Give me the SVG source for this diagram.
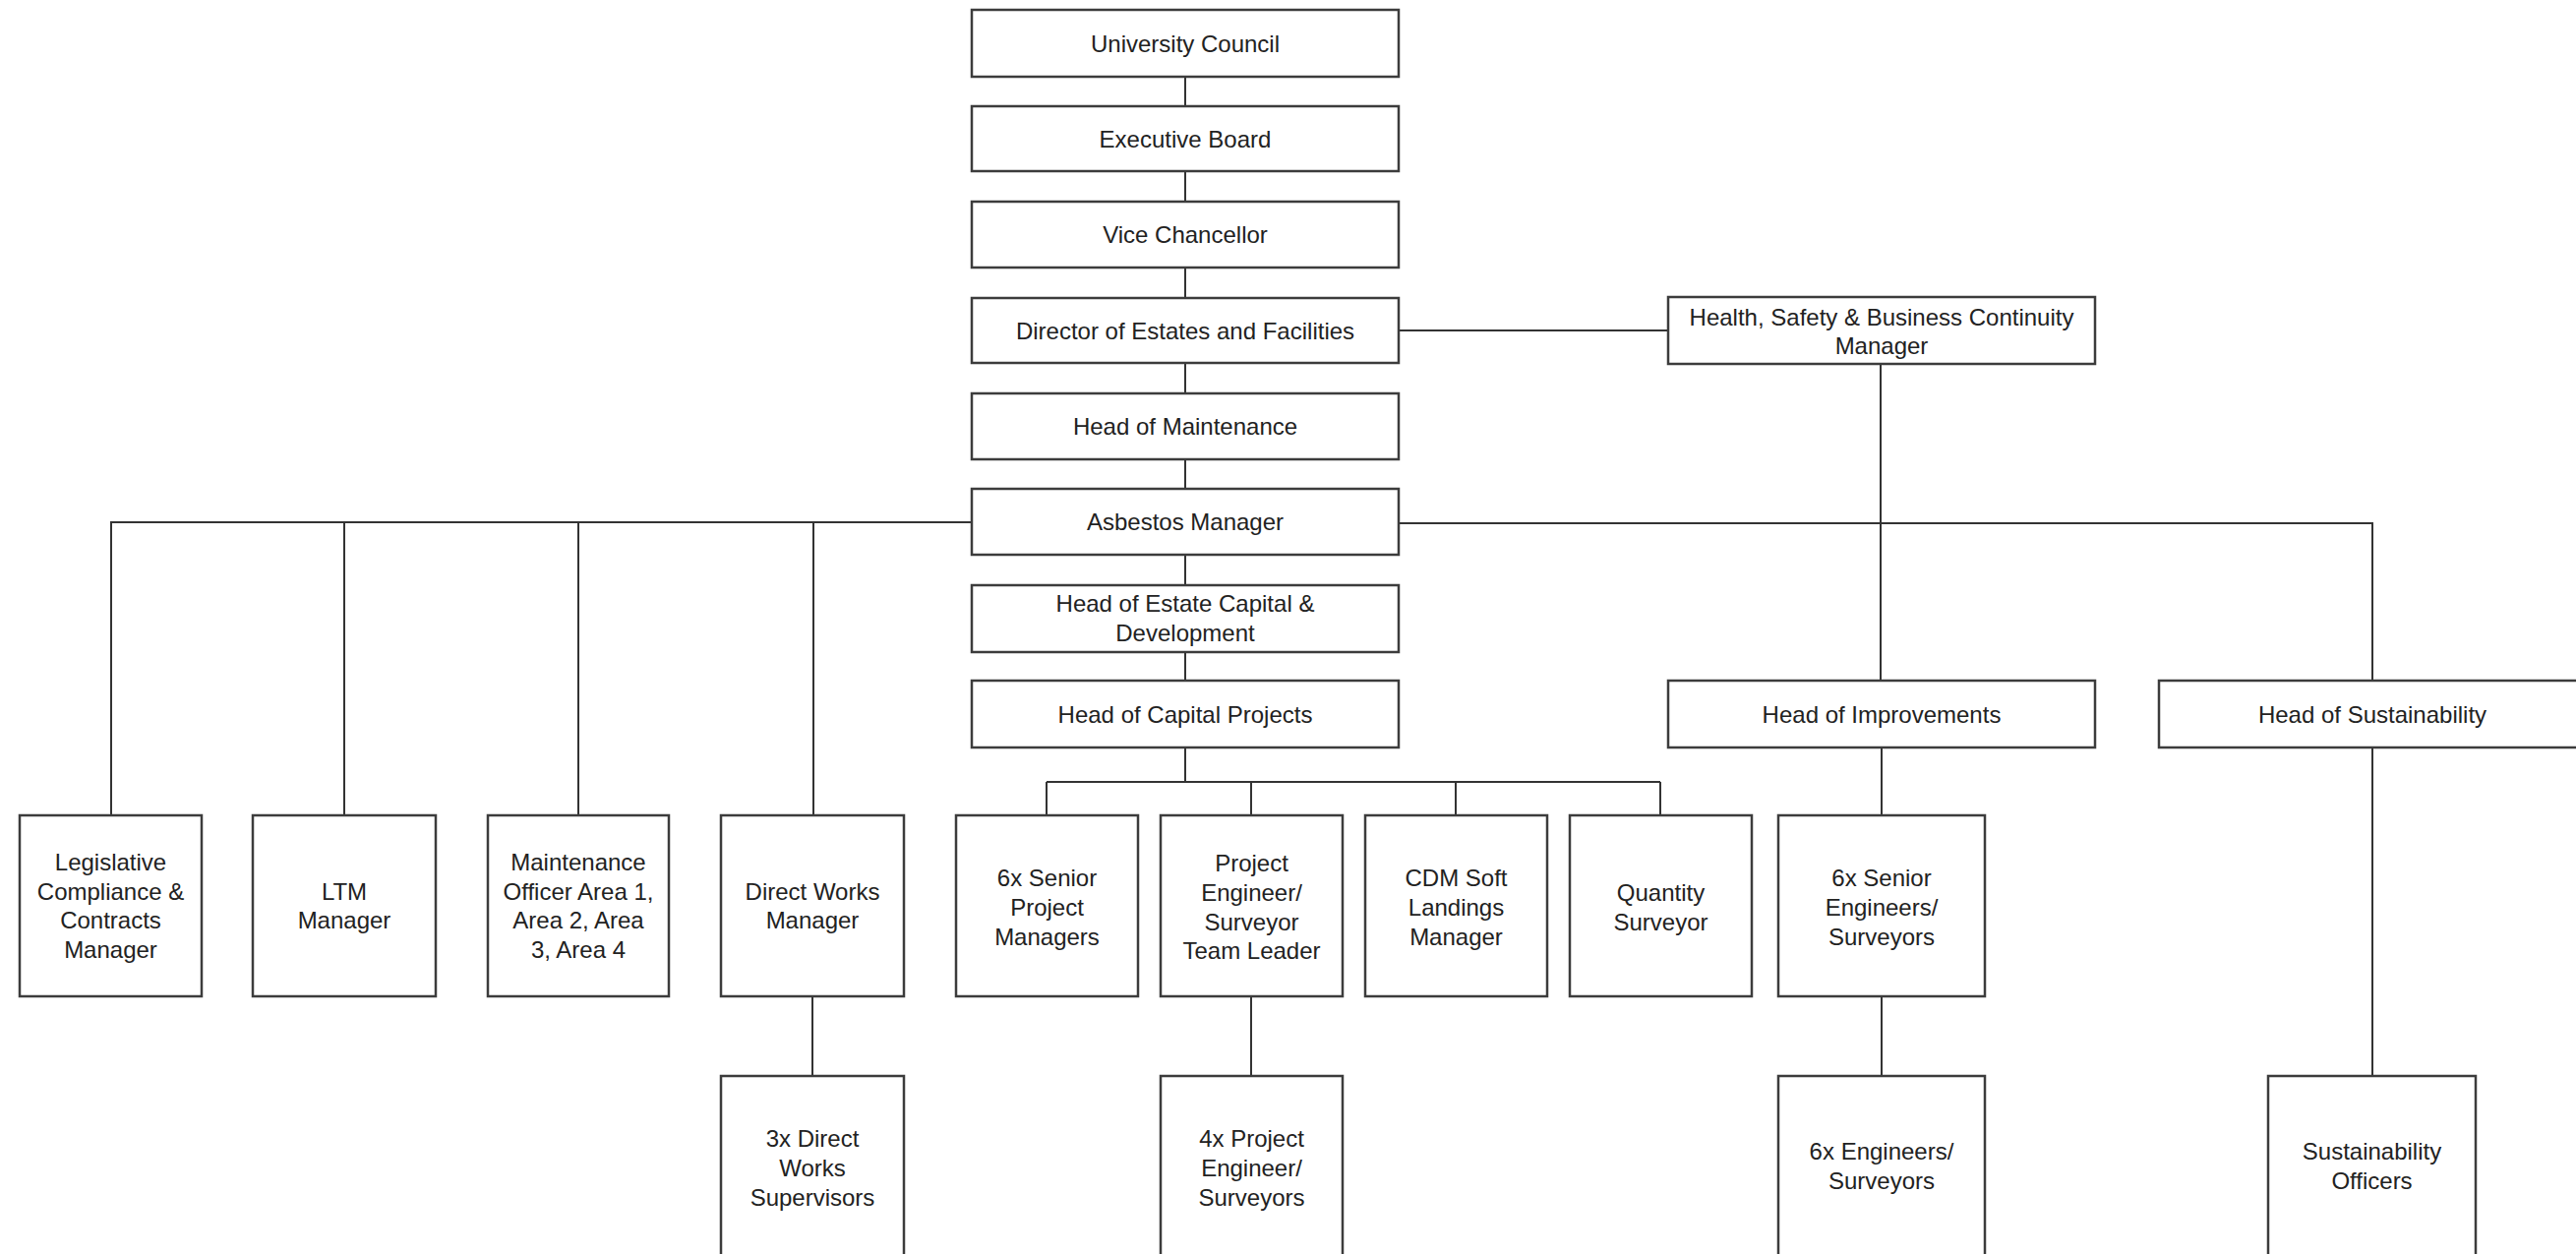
<svg xmlns="http://www.w3.org/2000/svg" width="2619" height="1275" viewBox="0 0 2619 1275">
<style>
.box{fill:#fff;stroke:#3c3c3c;stroke-width:2.5}
.t{font-family:"Liberation Sans",Arial,sans-serif;font-size:24px;fill:#222;text-anchor:middle}
.c{fill:none;stroke:#333;stroke-width:2}
</style>
<rect width="2619" height="1275" fill="#fff"/>
<g id="connectors">
<path class="c" d="M1205 78V108M1205 174V205M1205 272V303M1205 369V400M1205 467V497M1205 564V595M1205 663V692"/>
<path class="c" d="M1422 336H1696M1912 370V692"/>
<path class="c" d="M988 531H113V829M350 531V829M588 531V829M827 531V829"/>
<path class="c" d="M1422 532H2412V692"/>
<path class="c" d="M1205 760V795M1064 795H1688M1064 795V829M1272 795V829M1480 795V829M1688 795V829"/>
<path class="c" d="M826 1013V1094M1272 1013V1094"/>
<path class="c" d="M1913 760V829M1913 1013V1094M2412 760V1094"/>
</g>
<g id="n_university_council"><rect class="box" x="988" y="10" width="434" height="68"/><text class="t" x="1205" y="52.5">University Council</text></g>
<g id="n_executive_board"><rect class="box" x="988" y="108" width="434" height="66"/><text class="t" x="1205" y="149.5">Executive Board</text></g>
<g id="n_vice_chancellor"><rect class="box" x="988" y="205" width="434" height="67"/><text class="t" x="1205" y="247">Vice Chancellor</text></g>
<g id="n_director"><rect class="box" x="988" y="303" width="434" height="66"/><text class="t" x="1205" y="344.5">Director of Estates and Facilities</text></g>
<g id="n_head_maintenance"><rect class="box" x="988" y="400" width="434" height="67"/><text class="t" x="1205" y="442">Head of Maintenance</text></g>
<g id="n_asbestos"><rect class="box" x="988" y="497" width="434" height="67"/><text class="t" x="1205" y="539">Asbestos Manager</text></g>
<g id="n_head_estate_capital"><rect class="box" x="988" y="595" width="434" height="68"/><text class="t" x="1205" y="622">Head of Estate Capital &amp;</text><text class="t" x="1205" y="652">Development</text></g>
<g id="n_head_capital_projects"><rect class="box" x="988" y="692" width="434" height="68"/><text class="t" x="1205" y="734.5">Head of Capital Projects</text></g>
<g id="n_health_safety"><rect class="box" x="1696" y="302" width="434" height="68"/><text class="t" x="1913" y="331">Health, Safety &amp; Business Continuity</text><text class="t" x="1913" y="360">Manager</text></g>
<g id="n_head_improvements"><rect class="box" x="1696" y="692" width="434" height="68"/><text class="t" x="1913" y="734.5">Head of Improvements</text></g>
<g id="n_head_sustainability"><rect class="box" x="2195" y="692" width="434" height="68"/><text class="t" x="2412" y="734.5">Head of Sustainability</text></g>
<g id="n_legislative"><rect class="box" x="20" y="829" width="185" height="184"/><text class="t" x="112.5" y="885">Legislative</text><text class="t" x="112.5" y="914.5">Compliance &amp;</text><text class="t" x="112.5" y="944">Contracts</text><text class="t" x="112.5" y="973.5">Manager</text></g>
<g id="n_ltm"><rect class="box" x="257" y="829" width="186" height="184"/><text class="t" x="350" y="914.5">LTM</text><text class="t" x="350" y="944">Manager</text></g>
<g id="n_maintenance_officer"><rect class="box" x="496" y="829" width="184" height="184"/><text class="t" x="588" y="885">Maintenance</text><text class="t" x="588" y="914.5">Officer Area 1,</text><text class="t" x="588" y="944">Area 2, Area</text><text class="t" x="588" y="973.5">3, Area 4</text></g>
<g id="n_direct_works_manager"><rect class="box" x="733" y="829" width="186" height="184"/><text class="t" x="826" y="914.5">Direct Works</text><text class="t" x="826" y="944">Manager</text></g>
<g id="n_senior_pm"><rect class="box" x="972" y="829" width="185" height="184"/><text class="t" x="1064.5" y="901">6x Senior</text><text class="t" x="1064.5" y="931">Project</text><text class="t" x="1064.5" y="961">Managers</text></g>
<g id="n_project_engineer_tl"><rect class="box" x="1180" y="829" width="185" height="184"/><text class="t" x="1272.5" y="886">Project</text><text class="t" x="1272.5" y="916">Engineer/</text><text class="t" x="1272.5" y="946">Surveyor</text><text class="t" x="1272.5" y="975">Team Leader</text></g>
<g id="n_cdm"><rect class="box" x="1388" y="829" width="185" height="184"/><text class="t" x="1480.5" y="901">CDM Soft</text><text class="t" x="1480.5" y="931">Landings</text><text class="t" x="1480.5" y="961">Manager</text></g>
<g id="n_quantity_surveyor"><rect class="box" x="1596" y="829" width="185" height="184"/><text class="t" x="1688.5" y="916">Quantity</text><text class="t" x="1688.5" y="946">Surveyor</text></g>
<g id="n_senior_engineers"><rect class="box" x="1808" y="829" width="210" height="184"/><text class="t" x="1913" y="901">6x Senior</text><text class="t" x="1913" y="931">Engineers/</text><text class="t" x="1913" y="961">Surveyors</text></g>
<g id="n_direct_works_supervisors"><rect class="box" x="733" y="1094" width="186" height="184"/><text class="t" x="826" y="1166">3x Direct</text><text class="t" x="826" y="1196">Works</text><text class="t" x="826" y="1226">Supervisors</text></g>
<g id="n_project_engineers"><rect class="box" x="1180" y="1094" width="185" height="184"/><text class="t" x="1272.5" y="1166">4x Project</text><text class="t" x="1272.5" y="1196">Engineer/</text><text class="t" x="1272.5" y="1226">Surveyors</text></g>
<g id="n_engineers"><rect class="box" x="1808" y="1094" width="210" height="184"/><text class="t" x="1913" y="1179">6x Engineers/</text><text class="t" x="1913" y="1209">Surveyors</text></g>
<g id="n_sustainability_officers"><rect class="box" x="2306" y="1094" width="211" height="184"/><text class="t" x="2411.5" y="1179">Sustainability</text><text class="t" x="2411.5" y="1209">Officers</text></g>
</svg>
